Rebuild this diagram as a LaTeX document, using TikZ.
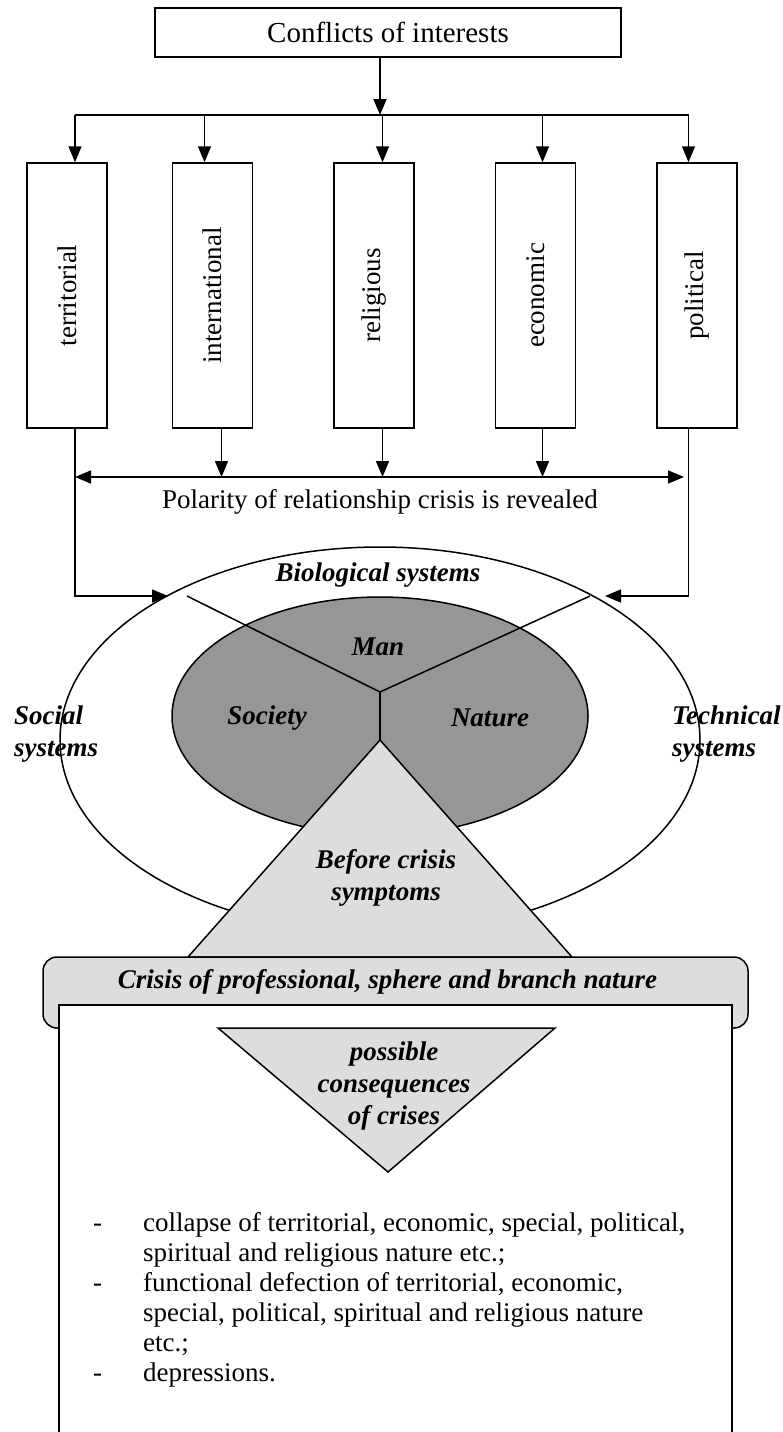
\documentclass[tikz,border=0pt]{standalone}
\usepackage{fontspec}
\setmainfont{Liberation Serif}
\usepackage{graphicx}
\usetikzlibrary{positioning}
\usetikzlibrary{arrows.meta}
\usetikzlibrary{shapes.geometric}

\definecolor{coregray}{RGB}{150,150,150}
\definecolor{palegray}{RGB}{221,221,221}
\newcommand{\boxlabel}[1]{\rotatebox{90}{#1}}

\begin{document}
\begin{tikzpicture}
	[x=1pt, y=-1pt,
	every node/.style={font=\fontsize{27}{30}\selectfont},
	outline/.style={draw, line width=1.5pt},
	tallbox/.style={outline, minimum width=80pt, minimum height=265pt, inner sep=0pt},
	oval/.style={outline, ellipse, inner sep=0pt},
	arrowline/.style={line width=1.5pt, -{Triangle[length=16pt, width=13pt]}},
	dblarrow/.style={line width=1.5pt, {Triangle[length=16pt, width=13pt]}-{Triangle[length=16pt, width=13pt]}},
	tagtext/.style={font=\fontsize{27}{32}\selectfont\bfseries\itshape, inner sep=0pt, align=center}]
	\useasboundingbox (0,0) rectangle (783,1432);

	\node[outline, minimum width=466pt, minimum height=49pt, font=\fontsize{29}{32}\selectfont] (conflicts) at (388,32.5) {Conflicts of interests};
	\coordinate (split) at (380,115);

	\node[tallbox] (terr) at (67,295.5) {\boxlabel{territorial}};
	\node[tallbox, right=64pt of terr] (inter) {\boxlabel{international}};
	\node[tallbox, right=80pt of inter] (relig) {\boxlabel{religious}};
	\node[tallbox, right=80pt of relig] (econ) {\boxlabel{economic}};
	\node[tallbox, right=80pt of econ] (polit) {\boxlabel{political}};

	\draw[arrowline] (conflicts.south -| split) -- (split);
	\draw[line width=1.5pt] ([xshift=8pt]terr.north |- split) -- ([xshift=-8.5pt]polit.north |- split);
	\draw[arrowline] ([xshift=8pt]terr.north |- split) -- ([xshift=8pt]terr.north);
	\draw[arrowline] ([xshift=-8pt]inter.north |- split) -- ([xshift=-8pt]inter.north);
	\draw[arrowline] ([xshift=8.5pt]relig.north |- split) -- ([xshift=8.5pt]relig.north);
	\draw[arrowline] ([xshift=7pt]econ.north |- split) -- ([xshift=7pt]econ.north);
	\draw[arrowline] ([xshift=-8.5pt]polit.north |- split) -- ([xshift=-8.5pt]polit.north);

	\coordinate (polL) at (75,477);
	\coordinate (polR) at (684,477);
	\draw[dblarrow] (polL) -- (polR);
	\draw[arrowline] ([xshift=9pt]inter.south) -- ([xshift=9pt]inter.south |- polL);
	\draw[arrowline] ([xshift=8.5pt]relig.south) -- ([xshift=8.5pt]relig.south |- polL);
	\draw[arrowline] ([xshift=7pt]econ.south) -- ([xshift=7pt]econ.south |- polL);
	\node (polarity) at (380,502) {Polarity of relationship crisis is revealed};

	\node[oval, minimum width=640pt, minimum height=386pt] (outer) at (380,740) {};
	\node[oval, fill=coregray, minimum width=416pt, minimum height=238pt] (core) at (380,716) {};

	\coordinate (inL) at (168,596);
	\coordinate (inR) at (605,596);
	\coordinate (cutL) at (187,596);
	\coordinate (cutR) at (590,596);
	\coordinate (hub) at (380,692);
	\coordinate (apex) at (380,740);
	\draw[arrowline] ([xshift=8pt]terr.south) |- (inL);
	\draw[arrowline] ([xshift=-8.5pt]polit.south) |- (inR);
	\draw[line width=1.5pt] (cutL) -- (hub) -- (cutR);
	\draw[line width=1.5pt] (hub) -- (apex);

	\draw[outline, fill=palegray] (apex) -- (188,957) -- (572,957) -- cycle;

	\node[tagtext] (biological) at (378,575) {Biological systems};
	\node[tagtext] (man) at (378,647) {Man};
	\node[tagtext] (society) at (267,718) {Society};
	\node[tagtext] (nature) at (490,718) {Nature};
	\node[tagtext, anchor=west, align=left] (social) at (14,734) {Social\\systems};
	\node[tagtext, anchor=west, align=left] (technical) at (672,734) {Technical\\systems};
	\node[tagtext] (before) at (386,878) {Before crisis\\symptoms};

	\node[outline, fill=palegray, rounded corners=14pt, minimum width=705pt, minimum height=71pt,
		label={[tagtext, xshift=-8pt, yshift=10.5pt]center:{Crisis of professional, sphere and branch nature}}] (crisis) at (395.5,992.5) {};
	\node[outline, fill=white, minimum width=673pt, minimum height=440pt, anchor=north] (outcome) at (395.5,1004) {};

	\draw[outline, fill=palegray] (218,1028) -- (555,1028) -- (388,1172) -- cycle;
	\node[tagtext] (possible) at (394,1086) {possible\\consequences\\of crises};

	\node[anchor=north west, inner sep=0pt] (effects) at (93,1210) {\begin{tabular}{@{}p{50pt}@{}l@{}}
		-&collapse of territorial, economic, special, political,\\
		&spiritual and religious nature etc.;\\
		-&functional defection of territorial, economic,\\
		&special, political, spiritual and religious nature\\
		&etc.;\\
		-&depressions.
	\end{tabular}};
\end{tikzpicture}
\end{document}
